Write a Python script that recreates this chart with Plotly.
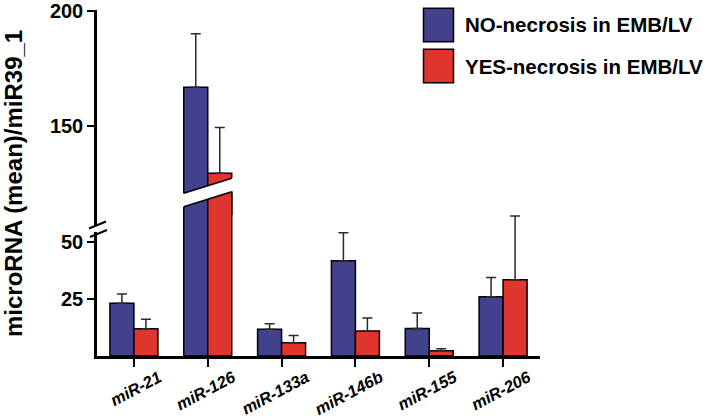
import plotly.graph_objects as go

# ---------------- data ----------------
categories = ["miR-21", "miR-126", "miR-133a", "miR-146b", "miR-155", "miR-206"]
no_mean = [23.2, 166.8, 11.8, 41.8, 12.1, 26.0]
no_sem = [4.0, 23.2, 2.4, 12.3, 6.8, 8.5]
yes_mean = [12.0, 129.5, 5.8, 11.0, 2.3, 33.5]
yes_sem = [4.2, 19.9, 3.2, 5.7, 0.9, 28.0]
series_names = ["NO-necrosis in EMB/LV", "YES-necrosis in EMB/LV"]
lower_ticks = [25, 50]
upper_ticks = [150, 200]

# ---------------- style / layout ----------------
BLUE = "#41418C"
RED = "#E0342F"
FONT = "Liberation Sans, Arial, sans-serif"
W, H = 709, 420
L, R, T, B = 97, 169, 10, 64
PW, PH = W - L - R, H - T - B
BASE = H - B  # pixel row of the zero line


def py(p):  # pixel row -> paper y
    return (BASE - p) / PH


def px(p):  # pixel column -> paper x
    return (p - L) / PW


LOW_SCALE = 2.276   # px per unit, lower segment
UP_SCALE = 2.306    # px per unit, upper segment
LOW_TOP_PX = 180
UP_BOT_PX = 215
UP_MAX = 200.3
low_range = [0, (BASE - LOW_TOP_PX) / LOW_SCALE]
up_range = [UP_MAX - (UP_BOT_PX - T) / UP_SCALE, UP_MAX]

fig = go.Figure()
err_style = dict(type="data", symmetric=False, color="#2a2a2a", thickness=1.5, width=5)
for yref in ["y", "y2"]:
    for name, mean, sem, col in [(series_names[0], no_mean, no_sem, BLUE),
                                 (series_names[1], yes_mean, yes_sem, RED)]:
        fig.add_trace(go.Bar(
            x=categories, y=mean, name=name, yaxis=yref, showlegend=False,
            marker=dict(color=col, line=dict(color="black", width=1.5)),
            error_y=dict(array=sem, arrayminus=[0] * len(sem), **err_style),
        ))

axis_common = dict(showgrid=False, zeroline=False, showline=True, linecolor="black",
                   linewidth=2.5, ticks="outside", ticklen=7, tickwidth=2, tickcolor="black",
                   automargin=False, ticklabeloverflow="allow",
                   tickfont=dict(family=FONT, size=20, color="black", weight="bold"))

fig.update_layout(
    width=W, height=H, autosize=False,
    margin=dict(l=L, r=R, t=T, b=B, pad=0, autoexpand=False),
    paper_bgcolor="white", plot_bgcolor="rgba(0,0,0,0)",
    barmode="group", bargap=0.35, bargroupgap=0,
    xaxis=dict(range=[-0.5, 5.5], showgrid=False, zeroline=False, showline=True,
               linecolor="black", linewidth=2.5, ticks="outside", ticklen=8, tickwidth=2,
               tickcolor="black", tickangle=-28, anchor="y", automargin=False,
               ticklabelshift=25, ticklabelstandoff=-5, ticklabeloverflow="allow",
               tickfont=dict(family=FONT, size=16.5, color="black", weight="bold", style="italic")),
    yaxis=dict(domain=[0, py(LOW_TOP_PX)], range=low_range, tickvals=lower_ticks,
               anchor="x", **axis_common),
    yaxis2=dict(domain=[py(UP_BOT_PX), 1], range=up_range, tickvals=upper_ticks,
                anchor="x", **axis_common),
)

# ---------------- axis break decoration ----------------
shapes = []
# gap in the y axis line
shapes.append(dict(type="rect", xref="paper", yref="paper", x0=px(93), x1=px(101),
                   y0=py(232), y1=py(225), fillcolor="white", line=dict(width=0), layer="above"))
for (xa, ya, xb, yb) in [(89, 228.5, 106, 221.5), (90, 237, 107, 230)]:
    shapes.append(dict(type="line", xref="paper", yref="paper", x0=px(xa), y0=py(ya),
                       x1=px(xb), y1=py(yb), line=dict(color="black", width=2), layer="above"))
# diagonal break through the miR-126 bars
i126 = categories.index("miR-126")
half = (1 - 0.35) / 2
xl, xr = i126 - half, i126 + half
top_l, top_r = 193.3, 178.3   # bottom edge of upper part
bot_l, bot_r = 206.7, 191.7   # top edge of lower part
slope = (top_r - top_l) / (2 * half)  # px per category unit
ext = 0.03
path = (f"M {xl - ext},{py(top_l - ext * slope)} "
        f"L {xr + ext},{py(top_r + ext * slope)} "
        f"L {xr + ext},{py(bot_r + ext * slope)} "
        f"L {xl - ext},{py(bot_l - ext * slope)} Z")
shapes.append(dict(type="path", xref="x", yref="paper", path=path, fillcolor="white",
                   line=dict(width=0), layer="above"))
for (a, b) in [(top_l, top_r), (bot_l, bot_r)]:
    shapes.append(dict(type="line", xref="x", yref="paper", x0=xl, x1=xr, y0=py(a), y1=py(b),
                       line=dict(color="black", width=1.5), layer="above"))

# ---------------- legend (drawn) ----------------
annotations = []
for k, (name, col) in enumerate(zip(series_names, [BLUE, RED])):
    y_top = 8.3 + k * 41
    y_bot = y_top + 33.4
    shapes.append(dict(type="rect", xref="paper", yref="paper", x0=px(423.5), x1=px(453.5),
                       y0=py(y_bot), y1=py(y_top), fillcolor=col,
                       line=dict(color="black", width=1.5)))
    annotations.append(dict(xref="paper", yref="paper", x=px(463), y=py((y_top + y_bot) / 2),
                            xanchor="left", yanchor="middle", showarrow=False, text=name,
                            font=dict(family=FONT, size=20.5, color="black", weight="bold")))

annotations.append(dict(xref="paper", yref="paper", x=px(13), y=py(184), textangle=-90,
                        xanchor="center", yanchor="middle", showarrow=False,
                        text="microRNA (mean)/miR39_1",
                        font=dict(family=FONT, size=24, color="black", weight="bold")))

fig.update_layout(shapes=shapes, annotations=annotations)
fig.write_html("out.html", config={"displayModeBar": False},
               post_script="document.body.style.margin='0';document.body.style.overflow='hidden';")
